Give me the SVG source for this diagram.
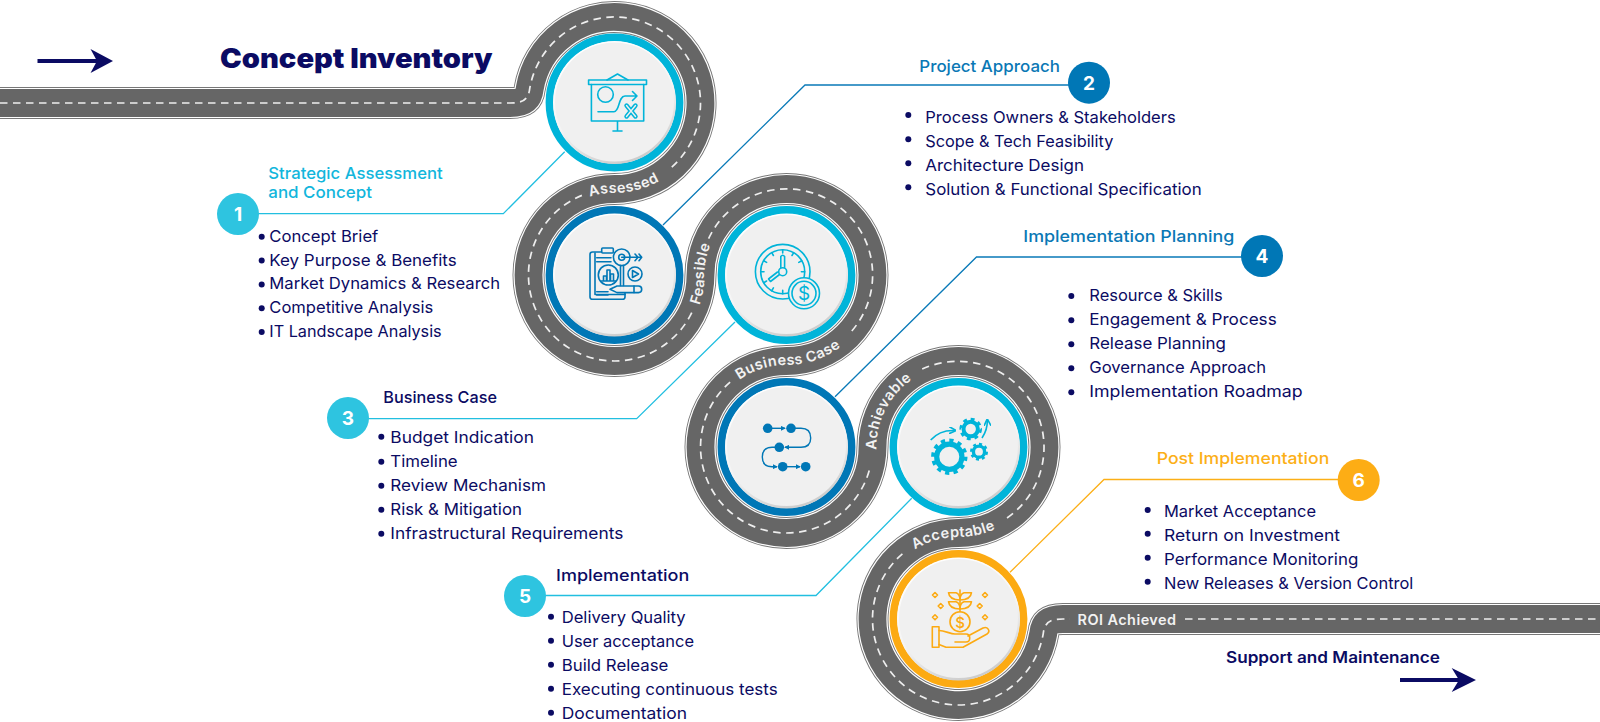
<svg xmlns="http://www.w3.org/2000/svg" width="1600" height="722" viewBox="0 0 1600 722">
<style>
text{font-family:"Inter","Noto Sans","Liberation Sans",sans-serif}
.item{font-size:16.5px;font-weight:400;fill:#0b0b63}
.head{font-size:16.5px;font-weight:500}
.navy{fill:#0b0b63}
.cy{fill:#12b6dc}.bl{fill:#0a78b5}.or{fill:#fcaf17}
.num{font-size:19px;font-weight:700;fill:#fff;text-anchor:middle}
.rl{font-size:14.5px;font-weight:600;fill:#f2f2f2;text-anchor:middle;letter-spacing:.45px}
.dot{fill:#0b0b63}
.conn{fill:none;stroke-width:1.3}
.ic{fill:none;stroke-width:1.6;stroke-linecap:round;stroke-linejoin:round}
.ring-c{stroke:#00b4d9}.ring-b{stroke:#0077b6}.ring-o{stroke:#fcaa12}
.ring{fill:none;stroke-width:7.8}
.base{fill:url(#bevel)}
.disc{fill:#f0f0f0}
.dash{fill:none;stroke:#eee;stroke-width:1.7;stroke-dasharray:7.5 5.5}
</style>
<defs>
<linearGradient id="bevel" x1="0.3" y1="0" x2="0.7" y2="1"><stop offset="0" stop-color="#fff"/><stop offset="0.55" stop-color="#f4f4f4"/><stop offset="1" stop-color="#c8c8c8"/></linearGradient>
<path id="roadline" d="M0 103H510C521 103 528.4 101 529.75 88.4A86 86 0 1 1 614.5 189A86 86 0 1 0 700.5 275A86 86 0 1 1 786.5 361A86 86 0 1 0 872.5 447A86 86 0 1 1 958.5 533A86 86 0 1 0 1043.25 633.6C1044.6 621 1052 619 1063 619H1600"/>
<path id="p-assessed" d="M573.5 204A82 82 0 0 1 614.5 193A90 90 0 0 0 666.1 176.7"/>
<path id="p-feasible" d="M696.1 313A90 90 0 0 0 704.5 275A82 82 0 0 1 712.2 240.3"/>
<path id="p-business" d="M728.5 389A82 82 0 0 1 786.5 365A90 90 0 0 0 850.1 338.6"/>
<path id="p-achievable" d="M873.4 470.3A90 90 0 0 0 876.5 447A82 82 0 0 1 930.5 370"/>
<path id="p-acceptable" d="M900.5 561A82 82 0 0 1 958.5 537A90 90 0 0 0 1016.4 515.9"/>
<marker id="fh" viewBox="0 0 6 6" refX="5" refY="3" markerWidth="5" markerHeight="5" markerUnits="userSpaceOnUse" orient="auto"><path d="M0 0L6 3L0 6Z" fill="#0077b6"/></marker>
<marker id="gh" viewBox="0 0 6 6" refX="5" refY="3" markerWidth="7" markerHeight="7" markerUnits="userSpaceOnUse" orient="auto"><path d="M0 0L6 3L0 6" fill="none" stroke="#00b4d9" stroke-width="1.4"/></marker>
</defs>

<g id="road">
<use href="#roadline" fill="none" stroke="#777" stroke-width="32"/>
<use href="#roadline" fill="none" stroke="#fff" stroke-width="30.2"/>
<use href="#roadline" fill="none" stroke="#666" stroke-width="27.8"/>
<path class="dash" d="M0 103H510C521 103 528.4 101 529.75 88.4A86 86 0 1 1 670.9 167.9M581.9 195.4A86 86 0 1 0 692.1 312M708.6 238.7A86 86 0 1 1 850 333M730.1 382.1A86 86 0 1 0 869.4 470M922.2 369.1A86 86 0 0 1 1003.3 520.4M902.4 553.8A86 86 0 1 0 1043.25 633.6C1044.6 621 1052 619 1063 619H1070M1185 619H1600"/>
<text class="rl"><textPath href="#p-assessed" startOffset="54">Assessed</textPath></text>
<text class="rl"><textPath href="#p-feasible" startOffset="39.5">Feasible</textPath></text>
<text class="rl"><textPath href="#p-business" startOffset="68.5">Business Case</textPath></text>
<text class="rl"><textPath href="#p-achievable" startOffset="62">Achievable</textPath></text>
<text class="rl"><textPath href="#p-acceptable" startOffset="60.5">Acceptable</textPath></text>
<text class="rl" x="1127" y="625" textLength="99" lengthAdjust="spacingAndGlyphs">ROI Achieved</text>
</g>

<g id="connectors">
<path class="conn" stroke="#22bfe0" d="M238 213.7H503.3L564.7 151.7"/>
<path class="conn" stroke="#0a7ab8" d="M1089 85H805L663 225"/>
<path class="conn" stroke="#22bfe0" d="M348 418.7H636.7L735 322"/>
<path class="conn" stroke="#0a7ab8" d="M1262 257H976.5L835 396.7"/>
<path class="conn" stroke="#22bfe0" d="M525 595.5H816L911.7 498.3"/>
<path class="conn" stroke="#fcaf17" d="M1358.7 479.5H1104L1010 572.3"/>
</g>

<g id="start-arrow">
<path d="M37.5 59H97V63H37.5Z" fill="#0b0b63"/><path d="M90.5 49L113 61L90.5 73L97 61Z" fill="#0b0b63"/>
<text x="220" y="68" font-size="27" font-weight="900" class="navy" textLength="272.6" lengthAdjust="spacingAndGlyphs">Concept Inventory</text>
</g>

<g id="node-1">
<circle class="ring ring-c" cx="614.5" cy="102.5" r="65"/><circle class="base" cx="614.5" cy="102.5" r="61.5"/><circle class="disc" cx="614.5" cy="102" r="59.5"/>
<g class="ic ring-c">
<path d="M607 80L617.5 74L628 80"/><rect x="588.6" y="80" width="57.9" height="4.5"/><path d="M591.4 84.5V121H643.7V84.5M617.5 121V131M613 131H622"/>
<circle cx="605.5" cy="94.5" r="7.8"/>
<path d="M598 111.7H614C620 111.7 618 96 625 96H637M632.5 91.5L637 96L632.5 100.5"/>
<path stroke-width="4.4" d="M626.5 105.5L635.5 116.5M635.5 105.5L626.5 116.5"/>
<path stroke="#f0f0f0" stroke-width="1.4" d="M626.5 105.5L635.5 116.5M635.5 105.5L626.5 116.5"/>
</g>
<circle cx="238" cy="214" r="21" fill="#2ec4e0"/><text class="num" x="238" y="221">1</text>
<text class="head cy" x="268.3" y="179" textLength="174.4" lengthAdjust="spacingAndGlyphs">Strategic Assessment</text>
<text class="head cy" x="268.3" y="198.3" textLength="103.7" lengthAdjust="spacingAndGlyphs">and Concept</text>
<circle class="dot" cx="261.7" cy="236.7" r="3"/><text class="item" x="269.3" y="241.7" textLength="109" lengthAdjust="spacingAndGlyphs">Concept Brief</text>
<circle class="dot" cx="261.7" cy="260.5" r="3"/><text class="item" x="269.3" y="265.5" textLength="187.4" lengthAdjust="spacingAndGlyphs">Key Purpose &amp; Benefits</text>
<circle class="dot" cx="261.7" cy="284.4" r="3"/><text class="item" x="269.3" y="289.4" textLength="230.7" lengthAdjust="spacingAndGlyphs">Market Dynamics &amp; Research</text>
<circle class="dot" cx="261.7" cy="308.2" r="3"/><text class="item" x="269.3" y="313.2" textLength="164" lengthAdjust="spacingAndGlyphs">Competitive Analysis</text>
<circle class="dot" cx="261.7" cy="332" r="3"/><text class="item" x="269.3" y="337" textLength="172.4" lengthAdjust="spacingAndGlyphs">IT Landscape Analysis</text>
</g>

<g id="node-2">
<circle class="ring ring-b" cx="614.5" cy="275" r="65"/><circle class="base" cx="614.5" cy="275" r="61.5"/><circle class="disc" cx="614.5" cy="274.5" r="59.5"/>
<g class="ic ring-b">
<path d="M601.5 252H592.5Q590 252 590 254.5V297Q590 299.3 592.5 299.3H622.5Q625 299.3 625 297V293"/>
<path d="M595 253V294.5H625"/>
<rect x="601.7" y="248" width="11.6" height="5" rx="1"/>
<circle cx="621.7" cy="257.3" r="8.3"/><circle cx="621.7" cy="257.3" r="3"/>
<path d="M621.7 257.3H641.7M635 254L638 257.3L635 260.7M639 254L641.7 257.3L639 260.7"/>
<path d="M596.7 257.7H611M596.7 261.7H611M596.7 291.7H608M596.7 295H608"/>
<circle cx="608.3" cy="275" r="10"/><path d="M603.5 281V276H606.5V281M607 281V270H610V281M610.5 281V274H613.5V281M601.5 281H615.5"/>
<circle cx="635" cy="274" r="7"/><path d="M632.5 270.5L638.5 274L632.5 277.5Z"/>
<path d="M620.5 265.5V285.5M623.5 265.5V285.5"/>
<path d="M610 289.3L617 286H638.5Q641.7 286 641.7 289.3Q641.7 292.6 638.5 292.6H617Z"/>
<path d="M634 286V292.6"/>
</g>
<circle cx="1089" cy="82.7" r="21" fill="#0077b6"/><text class="num" x="1089" y="89.7">2</text>
<text class="head bl" x="919.3" y="71.7" textLength="140.7" lengthAdjust="spacingAndGlyphs">Project Approach</text>
<circle class="dot" cx="908.3" cy="115" r="3"/><text class="item" x="925.3" y="122.7" textLength="250.4" lengthAdjust="spacingAndGlyphs">Process Owners &amp; Stakeholders</text>
<circle class="dot" cx="908.3" cy="139.2" r="3"/><text class="item" x="925.3" y="146.7" textLength="188" lengthAdjust="spacingAndGlyphs">Scope &amp; Tech Feasibility</text>
<circle class="dot" cx="908.3" cy="163.2" r="3"/><text class="item" x="925.3" y="170.7" textLength="158.7" lengthAdjust="spacingAndGlyphs">Architecture Design</text>
<circle class="dot" cx="908.3" cy="187.2" r="3"/><text class="item" x="925.3" y="195" textLength="276.4" lengthAdjust="spacingAndGlyphs">Solution &amp; Functional Specification</text>
</g>

<g id="node-3">
<circle class="ring ring-c" cx="786.5" cy="275" r="65"/><circle class="base" cx="786.5" cy="275" r="61.5"/><circle class="disc" cx="786.5" cy="274.5" r="59.5"/>
<g class="ic ring-c">
<circle cx="782.7" cy="271.7" r="27.3"/><circle cx="782.7" cy="271.7" r="22"/>
<path d="M782.7 249.7V253M793.7 252.6L792 255.5M801.7 260.7L798.8 262.4M804.7 271.7H801.4M771.7 252.6L773.4 255.5M763.7 260.7L766.6 262.4M760.7 271.7H764M763.7 282.7L766.6 281M771.7 290.8L773.4 287.9M782.7 293.7V290.4"/>
<path d="M780.8 267.5V256.5Q782.7 254 784.6 256.5V267.5"/><circle cx="782.7" cy="271.7" r="4"/><path d="M779.5 274.5L770.5 281.5L768.5 279L777.5 272"/>
<circle cx="804" cy="293.3" r="15.5" fill="#f0f0f0"/><circle cx="804" cy="293.3" r="12"/>
<text x="804" y="300" text-anchor="middle" font-size="19" font-weight="400" fill="#00b4d9" stroke="none">$</text>
</g>
<circle cx="348" cy="418" r="21" fill="#2ec4e0"/><text class="num" x="348" y="425">3</text>
<text class="head navy" x="383.3" y="403.3" textLength="113.7" lengthAdjust="spacingAndGlyphs">Business Case</text>
<circle class="dot" cx="381.3" cy="436.7" r="3"/><text class="item" x="390.3" y="442.7" textLength="143.7" lengthAdjust="spacingAndGlyphs">Budget Indication</text>
<circle class="dot" cx="381.3" cy="461.7" r="3"/><text class="item" x="390.3" y="466.7" textLength="67.4" lengthAdjust="spacingAndGlyphs">Timeline</text>
<circle class="dot" cx="381.3" cy="485.7" r="3"/><text class="item" x="390.3" y="490.7" textLength="155.7" lengthAdjust="spacingAndGlyphs">Review Mechanism</text>
<circle class="dot" cx="381.3" cy="509.7" r="3"/><text class="item" x="390.3" y="514.7" textLength="131.7" lengthAdjust="spacingAndGlyphs">Risk &amp; Mitigation</text>
<circle class="dot" cx="381.3" cy="533.7" r="3"/><text class="item" x="390.3" y="538.7" textLength="233" lengthAdjust="spacingAndGlyphs">Infrastructural Requirements</text>
</g>

<g id="node-4">
<circle class="ring ring-b" cx="786.5" cy="447" r="65"/><circle class="base" cx="786.5" cy="447" r="61.5"/><circle class="disc" cx="786.5" cy="446.5" r="59.5"/>
<g fill="#0077b6"><circle cx="767.7" cy="428.3" r="4.8"/><circle cx="791" cy="428.3" r="4.8"/><circle cx="779.3" cy="447.3" r="4.8"/><circle cx="782.7" cy="466.7" r="4.8"/><circle cx="805.7" cy="466.7" r="4.8"/></g>
<g fill="none" stroke="#0077b6" stroke-width="1.4">
<path d="M772 428.3H785" marker-end="url(#fh)"/>
<path d="M791 428.3H801Q810.7 428.3 810.7 438Q810.7 447.3 801 447.3H785" marker-end="url(#fh)"/>
<path d="M779.3 447.3H772Q762.3 447.3 762.3 457Q762.3 466.7 772 466.7H777" marker-end="url(#fh)"/>
<path d="M787 466.7H800" marker-end="url(#fh)"/>
</g>
<circle cx="1262" cy="256" r="21" fill="#0077b6"/><text class="num" x="1262" y="263">4</text>
<text class="head bl" x="1023.3" y="242.3" textLength="211" lengthAdjust="spacingAndGlyphs">Implementation Planning</text>
<circle class="dot" cx="1071.3" cy="296" r="3"/><text class="item" x="1089.3" y="301" textLength="133.4" lengthAdjust="spacingAndGlyphs">Resource &amp; Skills</text>
<circle class="dot" cx="1071.3" cy="320.2" r="3"/><text class="item" x="1089.3" y="325" textLength="187.4" lengthAdjust="spacingAndGlyphs">Engagement &amp; Process</text>
<circle class="dot" cx="1071.3" cy="344.3" r="3"/><text class="item" x="1089.3" y="349.3" textLength="136.7" lengthAdjust="spacingAndGlyphs">Release Planning</text>
<circle class="dot" cx="1071.3" cy="368.3" r="3"/><text class="item" x="1089.3" y="373.3" textLength="176.7" lengthAdjust="spacingAndGlyphs">Governance Approach</text>
<circle class="dot" cx="1071.3" cy="392.3" r="3"/><text class="item" x="1089.3" y="397.3" textLength="213.4" lengthAdjust="spacingAndGlyphs">Implementation Roadmap</text>
</g>

<g id="node-5">
<circle class="ring ring-c" cx="958.5" cy="447" r="65"/><circle class="base" cx="958.5" cy="447" r="61.5"/><circle class="disc" cx="958.5" cy="446.5" r="59.5"/>
<g fill="none" stroke="#00b4d9">
<circle cx="949.3" cy="456.7" r="12.6" stroke-width="5.2"/><circle cx="949.3" cy="456.7" r="16.2" stroke-width="4" pathLength="24" stroke-dasharray="1 1"/>
<circle cx="970.7" cy="429" r="7.2" stroke-width="4"/><circle cx="970.7" cy="429" r="9.8" stroke-width="3" pathLength="16" stroke-dasharray="1 1"/>
<circle cx="979" cy="451.7" r="5.6" stroke-width="3.4"/><circle cx="979" cy="451.7" r="7.7" stroke-width="2.6" pathLength="16" stroke-dasharray="1 1"/>
<path d="M930.7 440C936 434 945 430 955 430.5" stroke-width="1.6" marker-end="url(#gh)"/>
<path d="M982 438C986 432 987.5 426 987.3 420" stroke-width="1.6" marker-end="url(#gh)"/>
</g>
<circle cx="525" cy="596" r="21" fill="#2ec4e0"/><text class="num" x="525" y="603">5</text>
<text class="head navy" x="556" y="581" textLength="133.3" lengthAdjust="spacingAndGlyphs">Implementation</text>
<circle class="dot" cx="551" cy="616.7" r="3"/><text class="item" x="561.7" y="623.3" textLength="124" lengthAdjust="spacingAndGlyphs">Delivery Quality</text>
<circle class="dot" cx="551" cy="640.7" r="3"/><text class="item" x="561.7" y="647.3" textLength="132.3" lengthAdjust="spacingAndGlyphs">User acceptance</text>
<circle class="dot" cx="551" cy="664.7" r="3"/><text class="item" x="561.7" y="671.3" textLength="106.7" lengthAdjust="spacingAndGlyphs">Build Release</text>
<circle class="dot" cx="551" cy="688.7" r="3"/><text class="item" x="561.7" y="695.3" textLength="216" lengthAdjust="spacingAndGlyphs">Executing continuous tests</text>
<circle class="dot" cx="551" cy="712.7" r="3"/><text class="item" x="561.7" y="719" textLength="125.3" lengthAdjust="spacingAndGlyphs">Documentation</text>
</g>

<g id="node-6">
<circle class="ring ring-o" cx="958.5" cy="619" r="65"/><circle class="base" cx="958.5" cy="619" r="61.5"/><circle class="disc" cx="958.5" cy="618.5" r="59.5"/>
<g class="ic ring-o">
<circle cx="960" cy="621.7" r="10"/>
<text x="960" y="627.5" text-anchor="middle" font-size="15" font-weight="500" fill="#fcaa12" stroke="none">$</text>
<path d="M960 590V611.7"/>
<path d="M960 600C952 600 949 597 948.5 592.7H956C958.5 593.5 960 596 960 600C960 596 961.5 593.5 964 592.7H971.5C971 597 968 600 960 600Z"/>
<path d="M960 609C952 609 949 606 948.5 601.7H956C958.5 602.5 960 605 960 609C960 605 961.5 602.5 964 601.7H971.5C971 606 968 609 960 609Z"/>
<rect x="932.3" y="626.7" width="6.7" height="20.6"/>
<path d="M939 630.5C945 630.5 950 634 955 634H966C971 634 971 642 966 642H955M968 636L983 628C987.5 626 991 631 987 634L963 647.3H946L939 644.5"/>
<path d="M935 592.5L937.5 595L935 597.5L932.5 595ZM985 592.5L987.5 595L985 597.5L982.5 595ZM940.7 603.5L943.2 606L940.7 608.5L938.2 606ZM979.7 603.5L982.2 606L979.7 608.5L977.2 606ZM935 614.8L937.5 617.3L935 619.8L932.5 617.3ZM985 614.8L987.5 617.3L985 619.8L982.5 617.3Z"/>
</g>
<circle cx="1358.7" cy="480" r="21" fill="#fdad15"/><text class="num" x="1358.7" y="487">6</text>
<text class="head or" x="1156.7" y="464" textLength="172.6" lengthAdjust="spacingAndGlyphs">Post Implementation</text>
<circle class="dot" cx="1147.7" cy="510" r="3"/><text class="item" x="1164" y="516.7" textLength="152" lengthAdjust="spacingAndGlyphs">Market Acceptance</text>
<circle class="dot" cx="1147.7" cy="533.7" r="3"/><text class="item" x="1164" y="540.7" textLength="176" lengthAdjust="spacingAndGlyphs">Return on Investment</text>
<circle class="dot" cx="1147.7" cy="557.7" r="3"/><text class="item" x="1164" y="564.7" textLength="194.3" lengthAdjust="spacingAndGlyphs">Performance Monitoring</text>
<circle class="dot" cx="1147.7" cy="581.7" r="3"/><text class="item" x="1164" y="588.7" textLength="249.3" lengthAdjust="spacingAndGlyphs">New Releases &amp; Version Control</text>
</g>

<g id="end-arrow">
<text x="1226" y="662.7" font-size="15.5" font-weight="600" class="navy" textLength="214" lengthAdjust="spacingAndGlyphs">Support and Maintenance</text>
<path d="M1400 678H1460V682H1400Z" fill="#0b0b63"/><path d="M1451.7 668L1476 680L1451.7 692L1459 680Z" fill="#0b0b63"/>
</g>
</svg>
